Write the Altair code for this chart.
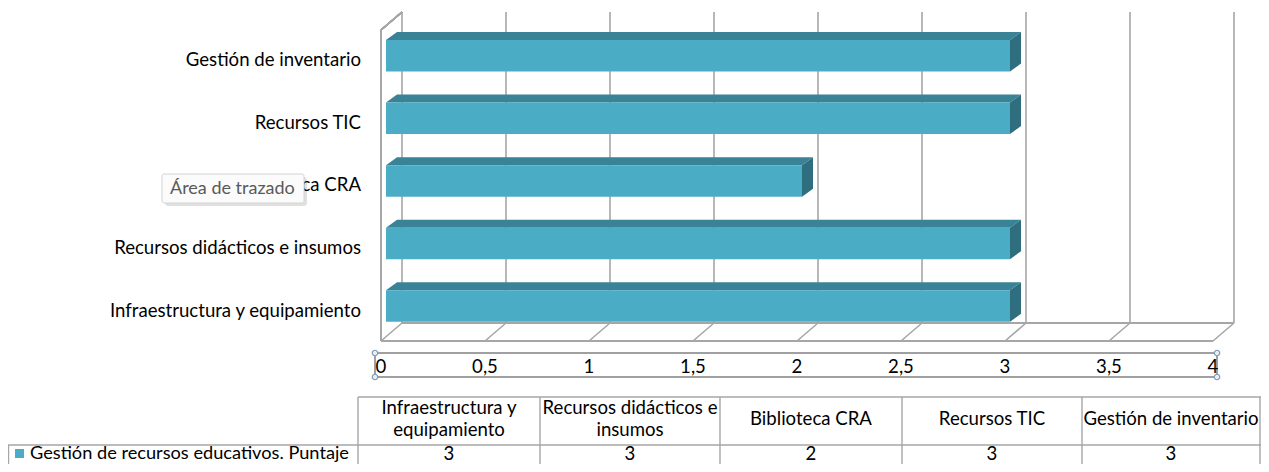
import altair as alt
import pandas as pd

# ---------------- data ----------------
categories = ["Infraestructura y equipamiento", "Recursos didácticos e insumos",
              "Biblioteca CRA", "Recursos TIC", "Gestión de inventario"]
values = [3, 3, 2, 3, 3]
ticks = [0, 0.5, 1, 1.5, 2, 2.5, 3, 3.5, 4]
tick_labels = ["0", "0,5", "1", "1,5", "2", "2,5", "3", "3,5", "4"]
header_lines = [["Infraestructura y", "equipamiento"], ["Recursos didácticos e", "insumos"],
                ["Biblioteca CRA"], ["Recursos TIC"], ["Gestión de inventario"]]
series_name = "Gestión de recursos educativos. Puntaje"
tooltip_text = "Área de trazado"

# ---------------- styling ----------------
FONT = "Lato"
FS = 18.6
FRONT = "#4BACC6"
TOP = "#3A8396"
SIDE = "#2F6E7E"
GRID = "#a6a6a6"
W, H = 1253, 456

X = alt.Scale(domain=[0, 4], range=[378, 1210])
Y = alt.Scale(domain=[-0.5, 4.5], range=[329.3, 16.5])
HALF = 0.252      # half bar thickness (rows)
DX = 0.053        # depth in value units
DY = 0.128        # depth in row units
FRONT_OFF = -5
BACK_OFF = 16

def xq(f, **kw):
    return alt.X(f, scale=X, axis=None, **kw)

def yq(f, **kw):
    return alt.Y(f, scale=Y, axis=None, **kw)

bars = pd.DataFrame({"cat": categories, "v": values, "i": list(range(len(categories)))})
bars["x0"] = 0.0
bars["lo"] = bars["i"] - HALF
bars["hi"] = bars["i"] + HALF

top_rows, side_rows = [], []
for c, v, i in zip(categories, values, range(len(categories))):
    top_rows.append({"cat": c, "yy": i + HALF, "xa": 0.0, "xb": v})
    top_rows.append({"cat": c, "yy": i + HALF + DY, "xa": DX, "xb": v + DX})
    side_rows.append({"cat": c, "xx": v, "ya": i - HALF, "yb": i + HALF})
    side_rows.append({"cat": c, "xx": v + DX, "ya": i - HALF + DY, "yb": i + HALF + DY})
top_df = pd.DataFrame(top_rows)
side_df = pd.DataFrame(side_rows)
tick_df = pd.DataFrame({"t": ticks, "lab": tick_labels})

layers = []

# back wall gridlines
layers.append(alt.Chart(tick_df).mark_rule(color=GRID, strokeWidth=1.6, xOffset=BACK_OFF).encode(
    x=xq("t:Q"), y=alt.value(4), y2=alt.value(315)))
# floor diagonals
layers.append(alt.Chart(tick_df).mark_rule(color=GRID, strokeWidth=1.6, xOffset=FRONT_OFF, x2Offset=BACK_OFF).encode(
    x=xq("t:Q"), x2=alt.X2("t:Q"), y=alt.value(333), y2=alt.value(315)))
# back floor line
layers.append(alt.Chart(tick_df).mark_rule(color=GRID, strokeWidth=1.6, xOffset=BACK_OFF, x2Offset=BACK_OFF).encode(
    x=alt.X(datum=0, type="quantitative", scale=X, axis=None), x2=alt.X2(datum=4),
    y=alt.value(315)))
# front floor line
layers.append(alt.Chart(tick_df).mark_rule(color=GRID, strokeWidth=1.6, xOffset=FRONT_OFF, x2Offset=FRONT_OFF).encode(
    x=alt.X(datum=0, type="quantitative", scale=X, axis=None), x2=alt.X2(datum=4),
    y=alt.value(333)))
# left wall front vertical
layers.append(alt.Chart(tick_df).mark_rule(color=GRID, strokeWidth=1.6, xOffset=FRONT_OFF).encode(
    x=alt.X(datum=0, type="quantitative", scale=X, axis=None), y=alt.value(22), y2=alt.value(333)))
# left wall top diagonal
layers.append(alt.Chart(tick_df).mark_rule(color=GRID, strokeWidth=1.6, xOffset=FRONT_OFF, x2Offset=BACK_OFF).encode(
    x=alt.X(datum=0, type="quantitative", scale=X, axis=None), x2=alt.X2(datum=0),
    y=alt.value(22), y2=alt.value(4)))

# bars: top face, side face, front face
layers.append(alt.Chart(top_df).mark_area(orient="horizontal", color=TOP).encode(
    y=yq("yy:Q"), x=xq("xa:Q", stack=None), x2=alt.X2("xb:Q"), detail="cat:N"))
layers.append(alt.Chart(side_df).mark_area(orient="vertical", color=SIDE).encode(
    x=xq("xx:Q"), y=yq("ya:Q", stack=None), y2=alt.Y2("yb:Q"), detail="cat:N"))
layers.append(alt.Chart(bars).mark_rect(color=FRONT).encode(
    x=xq("x0:Q"), x2=alt.X2("v:Q"), y=yq("lo:Q"), y2=alt.Y2("hi:Q")))

# category labels
layers.append(alt.Chart(bars).mark_text(align="right", baseline="middle", dy=4.5,
                                        font=FONT, fontSize=FS, color="#000").encode(
    x=alt.value(353), y=yq("i:Q"), text="cat:N"))

# axis box with selection handles
layers.append(alt.Chart(tick_df).mark_rect(fill=None, stroke="#a0a0a0", strokeWidth=1.2).encode(
    x=alt.value(367), x2=alt.value(1209), y=alt.value(345), y2=alt.value(369)))
handles = pd.DataFrame({"hx": [367, 367, 1209, 1209], "hy": [345, 369, 345, 369]})
for hx, hy in zip(handles["hx"], handles["hy"]):
    layers.append(alt.Chart(handles.head(1)).mark_point(shape="circle", size=30, filled=True,
                                                        fill="#e8eef4", stroke="#7f9ab3", strokeWidth=1.2,
                                                        opacity=1).encode(
        x=alt.value(int(hx)), y=alt.value(int(hy))))
# tick labels
layers.append(alt.Chart(tick_df).mark_text(baseline="middle", font=FONT, fontSize=FS, color="#000",
                                           xOffset=FRONT_OFF).encode(
    x=xq("t:Q"), y=alt.value(358.5), text="lab:N"))

# ---------------- data table ----------------
col_edges = [350, 532, 712, 894, 1074, 1252]
line_df = pd.DataFrame({"a": [0]})
def hline(x1, x2, y):
    return alt.Chart(line_df).mark_rule(color=GRID, strokeWidth=1.4).encode(
        x=alt.value(x1), x2=alt.value(x2), y=alt.value(y))
def vline(x, y1, y2):
    return alt.Chart(line_df).mark_rule(color=GRID, strokeWidth=1.4).encode(
        x=alt.value(x), y=alt.value(y1), y2=alt.value(y2))

layers.append(hline(350, 1253, 389))
layers.append(hline(0, 1253, 437))
layers.append(vline(0.5, 437, 456))
for e in col_edges:
    layers.append(vline(e, 389, 456))

for k, (lines, val) in enumerate(zip(header_lines, values)):
    cx = (col_edges[k] + col_edges[k + 1]) / 2
    if len(lines) == 2:
        ys = [400, 422]
    else:
        ys = [411]
    for ln, yy in zip(lines, ys):
        layers.append(alt.Chart(line_df).mark_text(text=ln, align="center", baseline="middle",
                                                   font=FONT, fontSize=FS, color="#000").encode(
            x=alt.value(cx), y=alt.value(yy)))
    layers.append(alt.Chart(line_df).mark_text(text=str(val), align="center", baseline="middle",
                                               font=FONT, fontSize=FS, color="#000").encode(
        x=alt.value(cx), y=alt.value(445.5)))

# legend key + series name
layers.append(alt.Chart(line_df).mark_rect(color=FRONT).encode(
    x=alt.value(7), x2=alt.value(16), y=alt.value(441), y2=alt.value(450)))
layers.append(alt.Chart(line_df).mark_text(text=series_name, align="left", baseline="middle",
                                           font=FONT, fontSize=18.2, color="#000").encode(
    x=alt.value(22), y=alt.value(445.5)))

# ---------------- tooltip ----------------
layers.append(alt.Chart(line_df).mark_rect(color="#000", opacity=0.12, cornerRadius=3).encode(
    x=alt.value(157), x2=alt.value(299), y=alt.value(169), y2=alt.value(198)))
layers.append(alt.Chart(line_df).mark_rect(fill="#fbfbfb", stroke="#d4d4d4", strokeWidth=1, cornerRadius=2).encode(
    x=alt.value(154), x2=alt.value(296), y=alt.value(166), y2=alt.value(195)))
layers.append(alt.Chart(line_df).mark_text(text=tooltip_text, align="left", baseline="middle",
                                           font=FONT, fontSize=18, color="#595959").encode(
    x=alt.value(162), y=alt.value(181)))

chart = alt.layer(*layers).properties(
    width=W, height=H,
    autosize=alt.AutoSizeParams(type="none"),
    padding=0,
).configure_view(stroke=None)

chart.save("out.html", embed_options={"renderer": "svg", "actions": False})
